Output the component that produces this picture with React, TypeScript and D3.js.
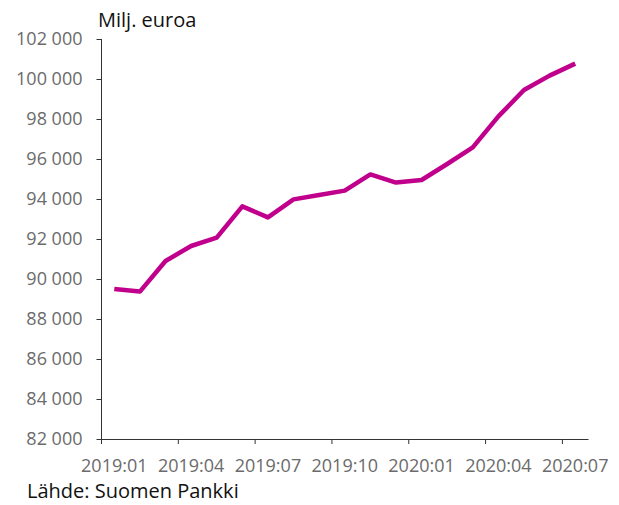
import React, { useEffect, useRef } from 'react';
import * as d3 from 'd3';

// monthly data, milj. euroa
const months = [
  '2019:01', '2019:02', '2019:03', '2019:04', '2019:05', '2019:06',
  '2019:07', '2019:08', '2019:09', '2019:10', '2019:11', '2019:12',
  '2020:01', '2020:02', '2020:03', '2020:04', '2020:05', '2020:06', '2020:07',
];
const values = [
  89500, 89370, 90900, 91650, 92070, 93630,
  93080, 93980, 94200, 94420, 95230, 94820,
  94950, 95750, 96580, 98130, 99450, 100170, 100770,
];
const yTicks = [82000, 84000, 86000, 88000, 90000, 92000, 94000, 96000, 98000, 100000, 102000];
const xTickLabels = ['2019:01', '2019:04', '2019:07', '2019:10', '2020:01', '2020:04', '2020:07'];

const WIDTH = 619;
const HEIGHT = 505;
const FONT = "'Open Sans', sans-serif";

export default function App() {
  const svgRef = useRef<SVGSVGElement>(null);

  useEffect(() => {
    const svg = d3.select(svgRef.current);
    svg.selectAll('*').remove();

    const margin = { top: 39, right: 31, bottom: 66, left: 101.5 };
    const x = d3
      .scaleBand()
      .domain(months)
      .range([margin.left, WIDTH - margin.right])
      .padding(0);
    const y = d3
      .scaleLinear()
      .domain([82000, 102000])
      .range([HEIGHT - margin.bottom, margin.top]);

    const fi = d3.formatLocale({
      decimal: ',',
      thousands: '\u00a0',
      grouping: [3],
      currency: ['', ''],
    });
    const fmt = fi.format(',d');

    // y axis
    const yAxis = svg
      .append('g')
      .attr('transform', `translate(${margin.left},0)`)
      .call(d3.axisLeft(y).tickValues(yTicks).tickFormat((d) => fmt(d as number)).tickSize(5).tickPadding(14).tickSizeOuter(0));
    yAxis.select('.domain').attr('stroke', '#333').attr('d', `M0,${margin.top}V${HEIGHT - margin.bottom + 5}`);
    yAxis.selectAll('.tick line').attr('stroke', '#333');
    yAxis
      .selectAll('text')
      .style('font-family', FONT)
      .style('font-size', '18px')
      .attr('fill', '#6b6b6b');

    // x axis
    const xAxis = svg
      .append('g')
      .attr('transform', `translate(0,${HEIGHT - margin.bottom})`)
      .call(
        d3.axisBottom(x)
          .tickValues(xTickLabels)
          .tickSize(0)
          .tickPadding(20)
          .tickSizeOuter(0)
      );
    xAxis.select('.domain').attr('stroke', '#333');
    xAxis
      .selectAll('text')
      .style('font-family', FONT)
      .style('font-size', '18px')
      .attr('fill', '#6b6b6b');
    // tick marks sit on the band edges
    xAxis
      .selectAll('.xtick')
      .data(xTickLabels)
      .join('line')
      .attr('class', 'xtick')
      .attr('x1', (d) => x(d) as number)
      .attr('x2', (d) => x(d) as number)
      .attr('y1', 0)
      .attr('y2', 5)
      .attr('stroke', '#333');

    const line = d3
      .line<number>()
      .x((_, i) => (x(months[i]) as number) + x.bandwidth() / 2)
      .y((d) => y(d));

    svg
      .append('path')
      .datum(values)
      .attr('d', line)
      .attr('fill', 'none')
      .attr('stroke', '#c0008c')
      .attr('stroke-width', 4.5)
      .attr('stroke-linejoin', 'round');

    svg
      .append('text')
      .attr('x', 98)
      .attr('y', 27)
      .style('font-family', FONT)
      .style('font-size', '20px')
      .attr('fill', '#111')
      .text('Milj. euroa');

    svg
      .append('text')
      .attr('x', 27)
      .attr('y', 498)
      .style('font-family', FONT)
      .style('font-size', '20px')
      .attr('fill', '#111')
      .text('Lähde: Suomen Pankki');
  }, []);

  return (
    <div style={{ position: 'absolute', left: 0, top: 0 }}>
      <svg ref={svgRef} width={WIDTH} height={HEIGHT} style={{ display: 'block', background: '#fff' }} />
    </div>
  );
}
